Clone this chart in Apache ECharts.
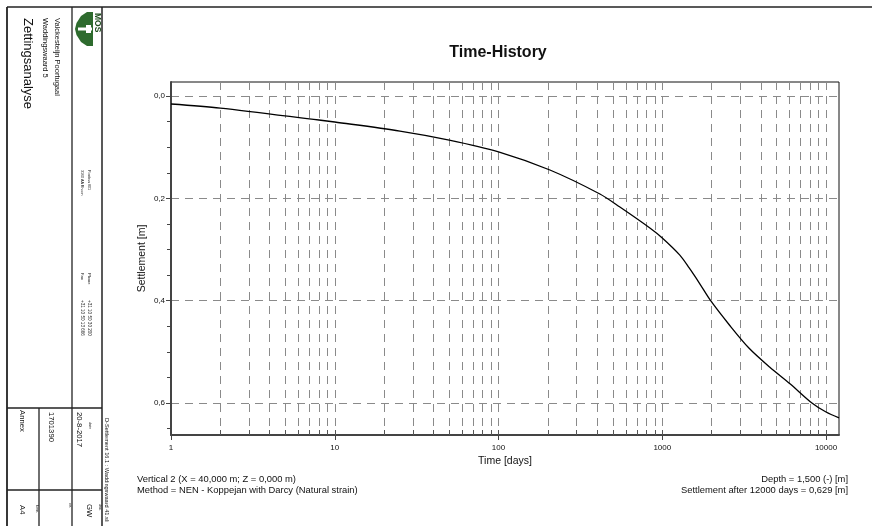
<!DOCTYPE html>
<html>
<head>
<meta charset="utf-8">
<script src="https://cdn.jsdelivr.net/npm/echarts@6/dist/echarts.min.js"></script>
<style>
  html, body { margin: 0; padding: 0; background: #ffffff; }
  #chart { width: 872px; height: 526px; }
</style>
</head>
<body>
<div id="chart"></div>
<script>
// Settlement time-history for Vertical 2 (NEN - Koppejan with Darcy)
const timeDays = [1, 2, 8, 10, 25, 50, 100, 206, 416, 551, 840, 1000, 1280, 1460, 1680, 1980, 2570, 3380, 4520, 6050, 8200, 10000, 12000];
const settlement = [0.0156, 0.0235, 0.0469, 0.0508, 0.0684, 0.086, 0.109, 0.1446, 0.1915, 0.217, 0.258, 0.2775, 0.311, 0.336, 0.365, 0.4006, 0.4475, 0.4925, 0.5296, 0.5628, 0.600, 0.6176, 0.629];

// Axis ticks
const timeLabelTicks = [1, 10, 100, 1000, 10000];
const timeGridTicks = [2, 3, 4, 5, 6, 7, 8, 9, 10, 20, 30, 40, 50, 60, 70, 80, 90, 100,
  200, 300, 400, 500, 600, 700, 800, 900, 1000, 2000, 3000, 4000, 5000, 6000, 7000, 8000, 9000, 10000];
const settlementLabelTicks = [0, 0.2, 0.4, 0.6];
const settlementMinorTicks = [0.05, 0.1, 0.15, 0.25, 0.3, 0.35, 0.45, 0.5, 0.55, 0.65];

const FONT = 'Liberation Sans, Arial, sans-serif';
const LINE = '#222222';
const GRID_DASH = '#8a8a8a';

const lastT = timeDays[timeDays.length - 1];
const lastS = settlement[settlement.length - 1];
const comma = (v, d) => v.toFixed(d).replace('.', ',');

const chart = echarts.init(document.getElementById('chart'), null, { renderer: 'canvas' });

// Rotated text for the drawing title block (reads top to bottom)
function vText(x, y, text, size, extra) {
  return {
    type: 'text', x: x, y: y, rotation: -Math.PI / 2, silent: true,
    style: Object.assign({
      text: text, x: 0, y: 0, fill: '#111', fontFamily: FONT, fontSize: size,
      align: 'left', textAlign: 'left', verticalAlign: 'middle', textVerticalAlign: 'middle'
    }, extra || {})
  };
}
function hLine(x1, y1, x2, y2, w) {
  return { type: 'line', silent: true, shape: { x1: x1, y1: y1, x2: x2, y2: y2 },
    style: { stroke: LINE, lineWidth: w || 1.3 } };
}
function plainText(x, y, text, size, align) {
  return { type: 'text', x: x, y: y, silent: true,
    style: { text: text, x: 0, y: 0, fill: '#111', fontFamily: FONT, fontSize: size,
      align: align, textAlign: align, verticalAlign: 'middle', textVerticalAlign: 'middle' } };
}

const graphics = [
  // frame of the title block
  hLine(7, 7, 872, 7, 1.5),
  hLine(7, 7, 7, 526, 1.8),
  hLine(72, 7, 72, 526, 1.3),
  hLine(102, 7, 102, 526, 1.5),
  hLine(7, 408, 102, 408, 1.3),
  hLine(7, 490, 102, 490, 1.3),
  hLine(39, 408, 39, 526, 1.3),
  // logo
  { type: 'polygon', silent: true,
    shape: { points: [[93, 12], [93, 46], [87, 46], [81, 42], [76.5, 35], [75, 29], [76.5, 23], [81, 16], [87, 12]] },
    style: { fill: '#2e6b2e' } },
  { type: 'rect', silent: true, shape: { x: 78, y: 27.5, width: 14, height: 3 }, style: { fill: '#ffffff' } },
  { type: 'rect', silent: true, shape: { x: 86, y: 25, width: 5, height: 8 }, style: { fill: '#ffffff' } },
  vText(97, 13, 'MOS', 8.5, { fontWeight: 'bold', fill: '#1f4f1f' }),
  // project texts
  vText(57, 18, 'Valckesteijn Poortugaal', 7.5),
  vText(45, 18, 'Waddingswaard 5', 7.5),
  vText(28, 18, 'Zettingsanalyse', 13),
  vText(89, 170, 'Postbus 801', 3.6),
  vText(82, 170, '3160 AA Rhoon', 3.6),
  vText(89, 273, 'Phone', 4),
  vText(82, 273, 'Fax', 4),
  vText(89, 300, '+31 10 50 30 200', 4.6),
  vText(82, 300, '+31 10 50 13 666', 4.6),
  vText(106.5, 418, 'D-Settlement 16.1 : Waddingswaard 41.sli', 5.6),
  vText(89.5, 422, 'date', 3.6),
  vText(79, 412, '20-8-2017', 7.7),
  vText(51, 412, '1701390', 7.7),
  vText(22, 410, 'Annex', 7.7),
  vText(37, 505, 'form.', 3.6),
  vText(22, 505, 'A4', 7.7),
  vText(70, 503, 'ctr.', 3.6),
  vText(100, 504, 'drw.', 3.6),
  vText(89, 504, 'GW', 7.7),
  // notes under the plot
  plainText(137, 479, 'Vertical 2 (X = 40,000 m; Z = 0,000 m)', 9.4, 'left'),
  plainText(137, 490, 'Method = NEN - Koppejan with Darcy (Natural strain)', 9.4, 'left'),
  plainText(848, 479, 'Depth = 1,500 (-) [m]', 9.4, 'right'),
  plainText(848, 490, 'Settlement after ' + lastT + ' days = ' + comma(lastS, 3) + ' [m]', 9.4, 'right')
];

const dash = { color: GRID_DASH, width: 1, type: [8, 6] };

const option = {
  backgroundColor: '#ffffff',
  animation: false,
  title: {
    text: 'Time-History', left: 493, top: 40, textAlign: 'center',
    textStyle: { fontFamily: FONT, fontSize: 16, fontWeight: 'bold', color: '#111' }
  },
  grid: { left: 171, top: 82, width: 668, height: 353, show: true, borderColor: '#111', borderWidth: 1, backgroundColor: 'transparent' },
  xAxis: [
    {
      type: 'log', logBase: 10, min: 1, max: lastT, position: 'bottom',
      name: 'Time [days]', nameLocation: 'middle', nameGap: 21, nameMoveOverlap: false,
      nameTextStyle: { fontFamily: FONT, fontSize: 10.5, color: '#111' },
      axisLine: { show: true, onZero: false, lineStyle: { color: '#444', width: 2 } },
      axisTick: { show: true, inside: false, length: 5, customValues: timeLabelTicks, lineStyle: { color: '#444', width: 1 } },
      axisLabel: { show: true, customValues: timeLabelTicks, margin: 9, fontFamily: FONT, fontSize: 8, color: '#111',
        formatter: v => String(Math.round(v)) },
      splitLine: { show: false }
    },
    {
      type: 'log', logBase: 10, min: 1, max: lastT, position: 'bottom',
      axisLine: { show: false, onZero: false },
      axisTick: { show: true, inside: true, length: 5, customValues: timeGridTicks, lineStyle: { color: '#555', width: 1 } },
      axisLabel: { show: false },
      splitLine: { show: true, lineStyle: dash }
    }
  ],
  yAxis: [
    {
      type: 'value', inverse: true, min: -0.0274, max: 0.6625, position: 'left',
      name: 'Settlement [m]', nameLocation: 'middle', nameGap: 23, nameRotate: 90, nameMoveOverlap: false,
      nameTextStyle: { fontFamily: FONT, fontSize: 10.5, color: '#111' },
      axisLine: { show: true, onZero: false, lineStyle: { color: '#444', width: 2 } },
      axisTick: { show: true, inside: false, length: 5, customValues: settlementLabelTicks, lineStyle: { color: '#444', width: 1 } },
      axisLabel: { show: true, customValues: settlementLabelTicks, margin: 6, fontFamily: FONT, fontSize: 8, color: '#111',
        formatter: v => comma(v, 1) },
      splitLine: { show: true, lineStyle: dash }
    },
    {
      type: 'value', inverse: true, min: -0.0274, max: 0.6625, position: 'left',
      axisLine: { show: false, onZero: false },
      axisTick: { show: true, inside: false, length: 4, customValues: settlementMinorTicks, lineStyle: { color: '#444', width: 1 } },
      axisLabel: { show: false },
      splitLine: { show: false }
    }
  ],
  series: [
    {
      type: 'line', xAxisIndex: 0, yAxisIndex: 0,
      data: timeDays.map((t, i) => [t, settlement[i]]),
      smooth: 0.3, showSymbol: false, symbol: 'none',
      lineStyle: { color: '#000', width: 1.3 },
      z: 5
    }
  ],
  graphic: { elements: graphics }
};

chart.setOption(option);
</script>
</body>
</html>
